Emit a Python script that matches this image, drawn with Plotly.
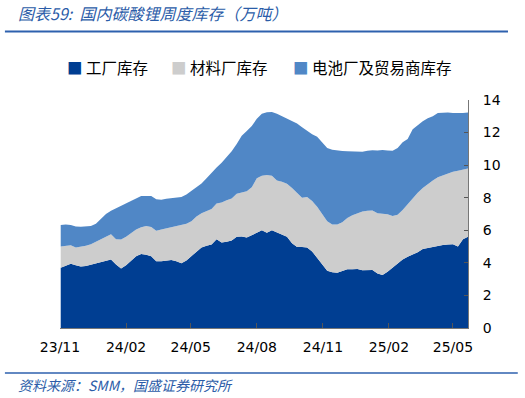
import pandas as pd
import plotly.graph_objects as go

dates = pd.date_range("2023-11-02", periods=82, freq="7D")

factory = [3.70, 3.85, 3.95, 3.85, 3.77, 3.80, 3.88, 3.95, 4.05, 4.12,
           4.20, 3.90, 3.66, 3.85, 4.15, 4.40, 4.55, 4.50, 4.40, 4.10,
           4.10, 4.15, 4.17, 4.10, 3.98, 4.15, 4.40, 4.65, 4.95, 5.05,
           5.12, 5.45, 5.25, 5.30, 5.38, 5.60, 5.62, 5.55, 5.68, 5.85,
           6.00, 5.85, 6.00, 5.85, 5.75, 5.60, 5.20, 4.98, 4.97, 4.95,
           4.70, 4.30, 3.85, 3.52, 3.42, 3.40, 3.50, 3.60, 3.60, 3.62,
           3.55, 3.55, 3.56, 3.35, 3.25, 3.45, 3.70, 3.95, 4.20, 4.38,
           4.50, 4.65, 4.85, 4.92, 5.00, 5.05, 5.10, 5.13, 5.15, 5.00,
           5.45, 5.60]
material = [1.30, 1.20, 1.13, 1.10, 1.21, 1.25, 1.27, 1.35, 1.40, 1.48,
            1.55, 1.55, 1.78, 1.75, 1.70, 1.65, 1.63, 1.76, 1.80, 1.87,
            1.95, 1.97, 2.03, 2.16, 2.34, 2.25, 2.15, 2.20, 2.10, 2.15,
            2.18, 2.20, 2.45, 2.55, 2.57, 2.65, 2.71, 2.85, 2.97, 3.35,
            3.35, 3.55, 3.35, 3.20, 3.23, 3.25, 3.40, 3.32, 3.03, 3.10,
            3.10, 3.15, 3.15, 3.03, 2.93, 2.95, 3.00, 3.15, 3.32, 3.43,
            3.60, 3.65, 3.66, 3.70, 3.77, 3.53, 3.18, 3.00, 3.05, 3.22,
            3.48, 3.65, 3.75, 3.93, 4.05, 4.20, 4.28, 4.37, 4.45, 4.65,
            4.27, 4.20]
battery_trader = [1.32, 1.31, 1.25, 1.29, 1.23, 1.18, 1.12, 1.10, 1.25, 1.40,
                  1.45, 1.90, 2.01, 2.00, 1.95, 1.90, 1.92, 1.84, 1.90, 1.93,
                  1.83, 1.81, 1.78, 1.76, 1.73, 1.80, 1.87, 1.77, 1.83, 2.00,
                  2.25, 2.20, 2.45, 2.65, 2.90, 3.05, 3.47, 3.70, 3.75, 3.65,
                  3.80, 3.85, 3.92, 4.10, 4.02, 4.00, 4.10, 4.25, 4.32, 4.05,
                  4.10, 4.30, 4.40, 4.50, 4.60, 4.55, 4.37, 4.10, 3.93, 3.78,
                  3.67, 3.68, 3.70, 3.85, 3.91, 3.92, 4.00, 4.10, 4.15, 4.00,
                  4.22, 4.15, 4.10, 4.03, 3.95, 3.95, 3.85, 3.73, 3.60, 3.53,
                  3.48, 3.43]

series_names = ["工厂库存", "材料厂库存", "电池厂及贸易商库存"]
series_colors = ["#003E92", "#CDCDCD", "#5087C6"]

tick_dates = ["2023-11-01", "2024-02-01", "2024-05-01", "2024-08-01",
              "2024-11-01", "2025-02-01", "2025-05-01"]
tick_labels = ["23/11", "24/02", "24/05", "24/08", "24/11", "25/02", "25/05"]
y_ticks = [0, 2, 4, 6, 8, 10, 12, 14]

title_text = "图表59:  国内碳酸锂周度库存（万吨）"
source_text = "资料来源：SMM，国盛证券研究所"

fig = go.Figure()
for name, vals, col in zip(series_names, [factory, material, battery_trader], series_colors):
    fig.add_trace(go.Scatter(
        x=dates, y=vals, name=name, mode="lines", stackgroup="one",
        line=dict(width=0, color=col), fillcolor=col, showlegend=False,
    ))

# legend drawn as text items (positions in plot-area fractions)
legend_x = [0.012, 0.268, 0.567]
for name, col, lx in zip(series_names, series_colors, legend_x):
    fig.add_annotation(
        xref="paper", yref="paper", x=lx, y=1.0, yshift=33, xanchor="left", yanchor="middle",
        text=f"<span style='color:{col}'>■</span> {name}", showarrow=False,
        font=dict(family="Noto Sans CJK SC", size=15.5, color="#000000"),
    )

fig.add_annotation(
    xref="paper", yref="paper", x=0, xshift=-44, y=1.0, yshift=87, xanchor="left", yanchor="middle",
    text=title_text, showarrow=False,
    font=dict(family="Noto Sans CJK SC", size=16, color="#2B5CA8", style="italic"),
)
fig.add_annotation(
    xref="paper", yref="paper", x=0, xshift=-44, y=0, yshift=-57, xanchor="left", yanchor="middle",
    text=source_text, showarrow=False,
    font=dict(family="Noto Sans CJK SC", size=14, color="#2B5CA8", style="italic"),
)

# header and footer rules
fig.add_shape(type="line", xref="paper", yref="paper", x0=-0.135, x1=1.098, y0=1.3, y1=1.3,
              line=dict(color="#2E61AE", width=2))
fig.add_shape(type="line", xref="paper", yref="paper", x0=-0.135, x1=1.122, y0=-0.197, y1=-0.197,
              line=dict(color="#2E61AE", width=1.5))

fig.update_layout(
    width=525, height=398,
    margin=dict(l=60, r=57, t=100, b=70),
    paper_bgcolor="white", plot_bgcolor="white",
    font=dict(family="DejaVu Sans", size=14, color="#000000"),
    showlegend=False,
)
fig.update_xaxes(
    type="date", range=["2023-11-01", "2025-05-22"],
    tickvals=tick_dates, ticktext=tick_labels,
    ticks="inside", ticklen=5, tickcolor="#555555",
    showline=True, linecolor="#777777", linewidth=1,
    showgrid=False, zeroline=False, ticklabelstandoff=6,
    tickfont=dict(family="DejaVu Sans", size=14, color="#000000"),
)
fig.update_yaxes(
    side="right", range=[0, 14], tickvals=y_ticks,
    ticks="inside", ticklen=4, tickcolor="#555555",
    showline=True, linecolor="#777777", linewidth=1,
    showgrid=False, zeroline=False, ticklabelstandoff=11,
    tickfont=dict(family="DejaVu Sans", size=14, color="#000000"),
)

fig.write_html("out.html", config={"displayModeBar": False},
               post_script="document.body.style.margin='0';")
